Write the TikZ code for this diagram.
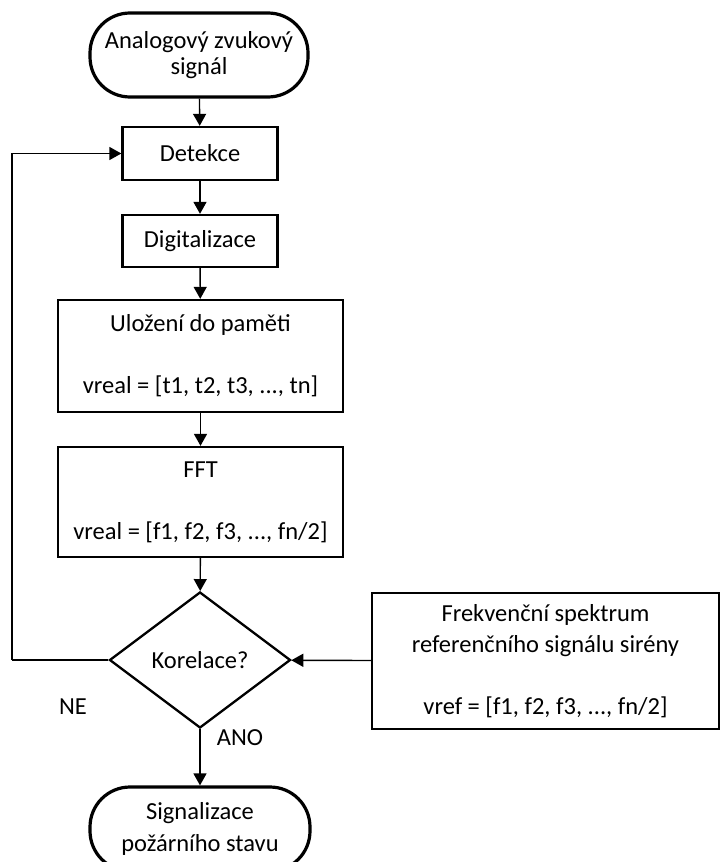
\documentclass[tikz,border=0pt]{standalone}
\usepackage{fontspec}
\setmainfont{Carlito}
\usetikzlibrary{arrows.meta,shapes.geometric}

\begin{document}
\begin{tikzpicture}[x=1pt,y=-1pt,
  txt/.style={font=\fontsize{24.5}{31}\selectfont, align=center},
  terminal/.style={txt, draw, line width=3.2pt, rounded corners=40pt,
    inner sep=0pt, minimum width=218pt, minimum height=84pt},
  procbox/.style={txt, draw, line width=2.3pt, inner sep=0pt},
  decision/.style={txt, draw, line width=2.3pt, shape=diamond, inner sep=0pt,
    minimum width=181pt, minimum height=136pt},
  conn/.style={line width=1.4pt, -{Triangle[length=12pt,width=13pt]}},
  plain/.style={line width=1.4pt}
]
\useasboundingbox (0,0) rectangle (720,862);
\clip (0,0) rectangle (720,862);

% main column
\node[terminal, font=\fontsize{24.5}{26}\selectfont] (start) at (199,55)
  {Analogový zvukový\\signál};
\node[procbox, minimum width=155pt, minimum height=53pt] (det) at (200,153.5) {Detekce};
\node[procbox, minimum width=155pt, minimum height=52pt] (dig) at (200,241) {Digitalizace};
\node[procbox, minimum width=285pt, minimum height=112pt] (mem) at (200.5,356)
  {Uložení do paměti\\[31pt]vreal = [t1, t2, t3, ..., tn]};
\node[procbox, minimum width=285pt, minimum height=110pt] (fft) at (200.5,502)
  {FFT\\[31pt]vreal = [f1, f2, f3, ..., fn/2]};
\node[decision] (kor) at (200,660) {Korelace?};
\node[terminal, font=\fontsize{24.5}{32}\selectfont, minimum width=220pt] (end) at (200,829)
  {Signalizace\\požárního stavu};

% reference spectrum
\node[procbox, minimum width=347pt, minimum height=136pt] (ref) at (545.5,661)
  {Frekvenční spektrum\\referenčního signálu sirény\\[31pt]vref = [f1, f2, f3, ..., fn/2]};

% branch labels
\node[txt] (ne) at (73,707) {NE};
\node[txt] (ano) at (240,738) {ANO};

% connectors
\draw[conn] (start) -- (det);
\draw[conn] (det) -- (dig);
\draw[conn] (dig) -- (mem);
\draw[conn] (mem) -- (fft);
\draw[conn] (fft) -- (kor);
\draw[conn] (kor) -- (end);
\draw[conn] (ref) -- (kor);
\coordinate (loop) at (12,660);
\draw[plain] (kor.west) -- (loop);
\draw[conn] (loop) |- (det.west);
\end{tikzpicture}
\end{document}
